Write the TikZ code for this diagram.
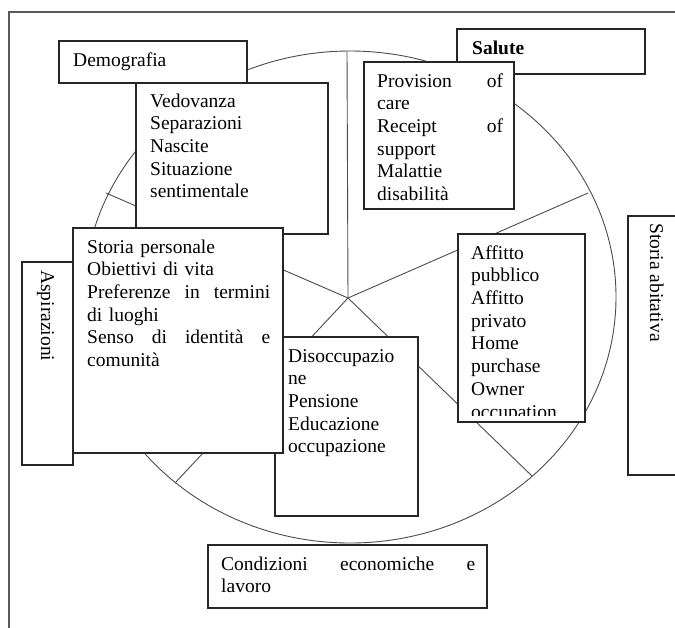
\documentclass[tikz,border=0pt]{standalone}
\usepackage{fontspec}
\setmainfont{Liberation Serif}
\newcommand\tfont{\fontsize{19.5pt}{22.7pt}\selectfont}
\newcommand\jline[2]{\leavevmode\hbox to #1{#2}}
\begin{document}
\begin{tikzpicture}[x=1pt,y=-1pt,
  box/.style={draw=black!85, line width=1.1pt, fill=white, anchor=north west, inner sep=0pt, outer sep=0pt},
  wheel/.style={draw=black!70, line width=0.9pt},
  frame/.style={draw=black!65, line width=1.6pt},
  txt/.style={anchor=north west, inner sep=0pt, align=left, font=\tfont},
  lbl/.style={anchor=base west, inner sep=0pt, font=\tfont}]
\useasboundingbox (0,0) rectangle (675,627);
\fill[white] (0,0) rectangle (675,627);
\clip (0,0) rectangle (675,627);
% outer frame
\draw[frame] (9,660) -- (9,12) -- (690,12);
% wheel
\coordinate (c) at (348,298);
\coordinate (e1) at (347,51);
\coordinate (e2) at (588,193);
\coordinate (e3) at (532,476);
\coordinate (e4) at (175,483);
\coordinate (e5) at (106,193);
\draw[wheel] (350,297) ellipse [x radius=266pt, y radius=246pt];
\draw[wheel] (c) -- (e1);
\draw[wheel] (c) -- (e2);
\draw[wheel] (c) -- (e3);
\draw[wheel] (c) -- (e4);
\draw[wheel] (c) -- (e5);
% boxes
\node[box, minimum width=188pt, minimum height=42pt] (demo) at (59,41) {};
\node[lbl] (demotxt) at (73,66) {Demografia};
\node[box, minimum width=192pt, minimum height=151pt] (vedo) at (136,83) {};
\node[txt, text width=172pt] (vedotxt) at (150,91.1) {\strut Vedovanza\\Separazioni\\Nascite\\Situazione\\sentimentale};
\node[box, minimum width=188pt, minimum height=45pt] (salute) at (457,29) {};
\node[lbl, font=\tfont\bfseries] (salutetxt) at (472,54) {Salute};
\node[box, minimum width=150pt, minimum height=147pt] (prov) at (364,62) {};
\node[txt, text width=128pt] (provtxt) at (377,71.1) {\strut\jline{126pt}{Provision\hfill of}\\care\\\jline{126pt}{Receipt\hfill of}\\support\\Malattie\\disabilità};
\node[box, minimum width=51pt, minimum height=203pt] (aspir) at (22,262) {};
\node[lbl, rotate=-90] (aspirtxt) at (41,270) {Aspirazioni};
\node[box, minimum width=143pt, minimum height=179pt] (disocc) at (275,337) {};
\node[txt, text width=125pt] (disocctxt) at (288,346.1) {\strut Disoccupazio\\ne\\Pensione\\Educazione\\occupazione};
\node[box, minimum width=210pt, minimum height=225pt] (storia) at (73,228) {};
\node[txt, text width=185pt] (storiatxt) at (87,237.1) {\strut Storia personale\\Obiettivi di vita\\\jline{183pt}{Preferenze\hfill in\hfill termini}\\di luoghi\\\jline{183pt}{Senso\hfill di\hfill identità\hfill e}\\comunità};
\node[box, minimum width=127pt, minimum height=188pt] (affitto) at (458,234) {};
\begin{scope}
\clip (458,234) rectangle (585,415);
\node[txt, text width=112pt] (affittotxt) at (471,243.1) {\strut Affitto\\pubblico\\Affitto\\privato\\Home\\purchase\\Owner\\occupation};
\end{scope}
\node[box, minimum width=82pt, minimum height=259pt] (abit) at (628,216) {};
\node[lbl, rotate=-90] (abittxt) at (650,223) {Storia abitativa};
\node[box, minimum width=279pt, minimum height=63pt] (cond) at (208,545) {};
\node[txt, text width=256pt] (condtxt) at (221,554.1) {\strut\jline{254pt}{Condizioni\hfill economiche\hfill e}\\lavoro};
\end{tikzpicture}
\end{document}
